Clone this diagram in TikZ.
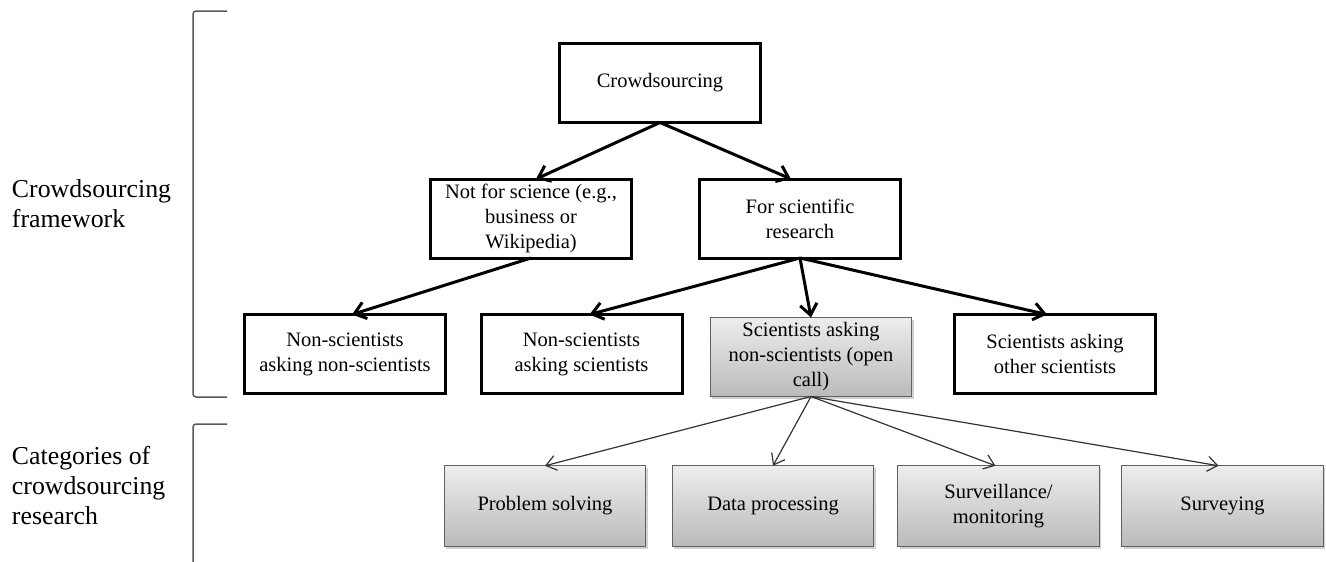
\documentclass[tikz,border=0pt]{standalone}
\usepackage{fontspec}
\setmainfont{Liberation Serif}
\usetikzlibrary{arrows.meta,shadows}
\begin{document}
\begin{tikzpicture}[x=1pt,y=-1pt,
  every node/.style={inner sep=0pt, outer sep=0pt},
  boxfont/.style={font=\fontsize{20.5}{25}\selectfont},
  bbox/.style={boxfont, draw=black, line width=3pt, fill=white,
    minimum width=201pt, minimum height=79pt, align=center},
  gbox/.style={boxfont, draw=black!62, line width=1.4pt,
    top color=black!7, bottom color=black!27,
    minimum width=201.5pt, align=center,
    drop shadow={shadow xshift=2pt, shadow yshift=-2.5pt, opacity=0.3, fill=black!60}},
  lab/.style={font=\fontsize{25.8}{30}\selectfont, align=left, anchor=west},
  bigarrow/.style={line width=3pt, -{Straight Barb[length=11pt,width=17pt,line width=3pt]}},
  thinarrow/.style={line width=1.2pt, draw=black!80, -{Straight Barb[length=10pt,width=15pt,line width=1.2pt]}},
  bracket/.style={draw=black!65, line width=1.5pt, rounded corners=3pt}
]
\useasboundingbox (0,0) rectangle (1326,562);

% side labels
\node[lab] (labA) at (12,204) {Crowdsourcing\\framework};
\node[lab] (labB) at (12,486) {Categories of\\crowdsourcing\\research};

% brackets
\draw[bracket] (227,11) -- (193,11) -- (193,397) -- (227,397);
\draw[bracket] (227,424) -- (193,424) -- (193,562);

% level 1 and 2
\node[bbox] (crowd) at (660,83) {Crowdsourcing};
\node[bbox] (nfs) at (531,218.5) {Not for science (e.g.,\\business or\\Wikipedia)};
\node[bbox] (fsr) at (800,218.5) {For scientific\\research};

% level 3
\node[bbox] (nsns) at (345,354) {Non-scientists\\asking non-scientists};
\node[bbox] (nss) at (581.5,354) {Non-scientists\\asking scientists};
\node[gbox, minimum height=79pt] (sans) at (811,357) {Scientists asking\\non-scientists (open\\call)};
\node[bbox] (sos) at (1055,354) {Scientists asking\\other scientists};

% level 4
\node[gbox, minimum height=80.5pt] (ps) at (545,506) {Problem solving};
\node[gbox, minimum height=80.5pt] (dp) at (773,506) {Data processing};
\node[gbox, minimum height=80.5pt] (sm) at (998.5,506) {Surveillance/\\monitoring};
\node[gbox, minimum height=80.5pt] (sv) at (1222.5,506) {Surveying};

% thick connectors
\draw[bigarrow] (crowd.south) -- ([xshift=5pt]nfs.north);
\draw[bigarrow] (crowd.south) -- ([xshift=-9pt]fsr.north);
\draw[bigarrow] (nfs.south) -- ([xshift=7pt]nsns.north);
\draw[bigarrow] (fsr.south) -- ([xshift=8pt]nss.north);
\draw[bigarrow] (fsr.south) -- (sans.north);
\draw[bigarrow] (fsr.south) -- ([xshift=-8pt]sos.north);

% thin connectors
\draw[thinarrow] (sans.south) -- (ps.north);
\draw[thinarrow] (sans.south) -- (dp.north);
\draw[thinarrow] (sans.south) -- ([xshift=-3pt]sm.north);
\draw[thinarrow] (sans.south) -- ([xshift=-4pt]sv.north);
\end{tikzpicture}
\end{document}
